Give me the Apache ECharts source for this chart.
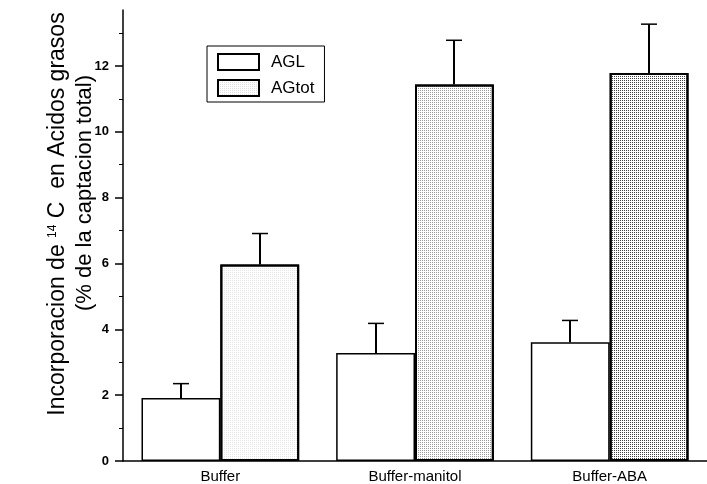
<!DOCTYPE html>
<html lang="es">
<head>
    <meta charset="UTF-8">
    <title>Incorporacion de 14C</title>
    <script src="https://cdn.jsdelivr.net/npm/echarts@6/dist/echarts.min.js"></script>
    <style>
        html, body { margin: 0; padding: 0; background: #fff; }
        #main { width: 707px; height: 484px; }
    </style>
</head>
<body>
<div id="main"></div>
<script>
    // datos
    var categorias = ['Buffer', 'Buffer-manitol', 'Buffer-ABA']
    var agl = [1.91, 3.28, 3.61]
    var aglErr = [2.35, 4.18, 4.27]        // extremo superior de la barra de error
    var agtot = [5.97, 11.44, 11.79]
    var agtotErr = [6.91, 12.78, 13.27]
    var yTicks = [0, 2, 4, 6, 8, 10, 12]

    var BAR_W = 0.405  // fraccion del ancho de categoria
    var font = 'Liberation Sans, Arial, sans-serif'

    // texturas punteadas de las barras AGtot
    var tonos = ['rgba(0,0,0,0.1)', 'rgba(0,0,0,0.4)', 'rgba(0,0,0,0.75)']
    function punteado(c) {
        return {
            symbol: 'rect', symbolSize: 1, color: c,
            dashArrayX: [1, 1], dashArrayY: [1, 1], rotation: 0
        }
    }

    var errData = []
    categorias.forEach(function (c, i) {
        errData.push([i, agl[i], aglErr[i], 0])
        errData.push([i, agtot[i], agtotErr[i], 1])
    })

    function renderErr(params, api) {
        var catW = api.size([1, 0])[0]
        var off = (api.value(3) === 0 ? -1 : 1) * catW * BAR_W / 2
        var base = api.coord([api.value(0), api.value(1)])
        var top = api.coord([api.value(0), api.value(2)])
        var x = Math.round(base[0] + off)
        return {
            type: 'group',
            children: [
                {type: 'line', shape: {x1: x, y1: base[1], x2: x, y2: top[1]},
                    style: {stroke: '#000', lineWidth: 2}},
                {type: 'line', shape: {x1: x - 8, y1: top[1], x2: x + 8, y2: top[1]},
                    style: {stroke: '#000', lineWidth: 1.5}}
            ]
        }
    }

    var chart = echarts.init(document.getElementById('main'))
    chart.setOption({
        animation: false,
        backgroundColor: '#fff',
        grid: {left: 123, right: -1, top: 10, bottom: 23},
        legend: {
            data: ['AGL', 'AGtot'],
            orient: 'vertical',
            left: 207, top: 46,
            padding: [7, 10, 5, 10],
            itemWidth: 41, itemHeight: 16, itemGap: 8,
            borderColor: '#000', borderWidth: 1,
            backgroundColor: '#fff',
            icon: 'rect',
            textStyle: {fontFamily: font, fontSize: 17, color: '#000', padding: [0, 0, 0, 7]}
        },
        xAxis: {
            type: 'category',
            data: categorias,
            axisLine: {lineStyle: {color: '#000', width: 1.5}},
            axisTick: {inside: true, length: 7, lineStyle: {color: '#000', width: 1.5}},
            axisLabel: {fontFamily: font, fontSize: 15, color: '#000', margin: 8}
        },
        yAxis: {
            type: 'value',
            min: 0, max: 13.7, interval: 2,
            splitLine: {show: false},
            axisLine: {show: true, lineStyle: {color: '#000', width: 1.5}},
            axisTick: {show: true, length: 8, customValues: yTicks, lineStyle: {color: '#000', width: 1.5}},
            minorTick: {show: true, splitNumber: 2, length: 4, lineStyle: {color: '#000', width: 1}},
            axisLabel: {customValues: yTicks, fontFamily: font, fontSize: 13, fontWeight: 'bold', color: '#000', margin: 14}
        },
        graphic: [
            {
                type: 'text', x: 58, y: 214, rotation: Math.PI / 2,
                style: {
                    text: '{a|Incorporacion de }{s|14}{a| C  en Acidos grasos}',
                    align: 'center', verticalAlign: 'middle',
                    rich: {
                        a: {fontFamily: font, fontSize: 23, fill: '#000'},
                        s: {fontFamily: font, fontSize: 12, fill: '#000', verticalAlign: 'top', padding: [0, 0, 10, 0]}
                    }
                }
            },
            {
                type: 'text', x: 85, y: 193, rotation: Math.PI / 2,
                style: {
                    text: '(% de la captacion total)',
                    fontFamily: font, fontSize: 22, fill: '#000',
                    align: 'center', verticalAlign: 'middle'
                }
            }
        ],
        series: [
            {
                name: 'AGL', type: 'bar',
                data: agl,
                barWidth: (BAR_W * 100) + '%', barGap: '0%',
                itemStyle: {color: '#fff', borderColor: '#000', borderWidth: 1.5}
            },
            {
                name: 'AGtot', type: 'bar',
                data: agtot.map(function (v, i) {
                    return {value: v, itemStyle: {decal: punteado(tonos[i])}}
                }),
                barWidth: (BAR_W * 100) + '%', barGap: '0%',
                itemStyle: {color: '#fff', borderColor: '#000', borderWidth: 2, decal: punteado('rgba(0,0,0,0.12)')}
            },
            {
                type: 'custom',
                renderItem: renderErr,
                data: errData,
                encode: {x: 0, y: 2},
                z: 5
            }
        ]
    })
</script>
</body>
</html>
